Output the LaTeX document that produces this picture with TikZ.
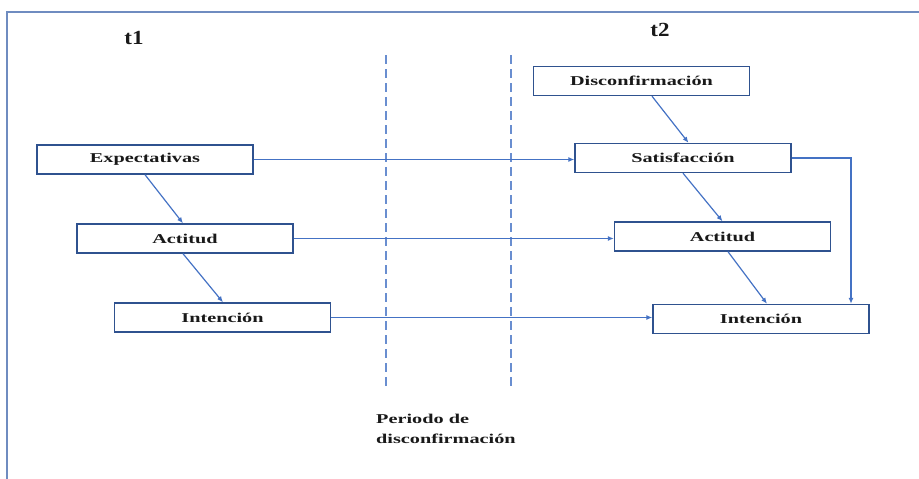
\documentclass[tikz,border=0pt]{standalone}
\usepackage{fontspec}
\setmainfont{Liberation Serif}
\newfontfamily\widefont[FakeStretch=1.5]{Liberation Serif}
\newfontfamily\titlefont[FakeStretch=1.15]{Liberation Serif}
\usetikzlibrary{arrows.meta}
\definecolor{boxcol}{HTML}{2F528F}
\definecolor{arrcol}{HTML}{4472C4}
\definecolor{framecol}{HTML}{6F8CC0}
\begin{document}
\begin{tikzpicture}[x=1pt,y=-1pt,
  box/.style={draw=boxcol, line width=1.4pt, minimum width=216pt, minimum height=29pt, inner sep=0pt, font=\widefont\fontsize{13.5}{15}\selectfont\bfseries, text=black!90},
  conn/.style={draw=arrcol, line width=1.2pt, -{Latex[length=6pt,width=5pt]}},
  divider/.style={draw=arrcol!80, line width=1.3pt, dash pattern=on 9pt off 5pt},
  title/.style={font=\titlefont\fontsize{20}{22}\selectfont\bfseries, text=black!90}]
\useasboundingbox (0,0) rectangle (919,479);
% frame
\draw[framecol, line width=1.5pt] (7,479) -- (7,12) -- (919,12);
% titles
\node[title] (t1) at (134,38) {t1};
\node[title] (t2) at (660,30) {t2};
% dividers
\coordinate (d1a) at (386,55); \coordinate (d1b) at (386,390);
\coordinate (d2a) at (511,55); \coordinate (d2b) at (511,390);
\draw[divider] (d1a) -- (d1b);
\draw[divider] (d2a) -- (d2b);
% boxes
\node[box] (disc) at (641.5,81) {Disconfirmación};
\node[box] (exp) at (145,159.5) {Expectativas};
\node[box] (sat) at (683,158) {Satisfacción};
\node[box] (act1) at (185,238.5) {Actitud};
\node[box] (act2) at (722.5,236.5) {Actitud};
\node[box] (int1) at (222.5,317.5) {Intención};
\node[box] (int2) at (761,319) {Intención};
% period label
\node[font=\widefont\fontsize{13.5}{20}\selectfont\bfseries, text=black!90, align=left, anchor=north west, inner sep=0pt] (per) at (376,414) {Periodo de\\disconfirmación};
% connectors
\draw[conn] (exp.east) -- (sat.west |- exp.east);
\draw[conn] (act1.east) -- (act2.west |- act1.east);
\draw[conn] (int1.east) -- (int2.west |- int1.east);
\draw[conn] (exp.south) -- ([xshift=-2pt]act1.north);
\draw[conn] ([xshift=-2pt]act1.south) -- ([xshift=0.5pt]int1.north);
\draw[conn] ([xshift=10.5pt]disc.south) -- ([xshift=5.5pt]sat.north);
\draw[conn] (sat.south) -- ([xshift=0pt]act2.north);
\draw[conn] ([xshift=5.5pt]act2.south) -- ([xshift=6pt]int2.north);
\coordinate (bend) at (851,158);
\draw[conn] (sat.east) -- (bend) -- (bend |- int2.north);
\end{tikzpicture}
\end{document}
